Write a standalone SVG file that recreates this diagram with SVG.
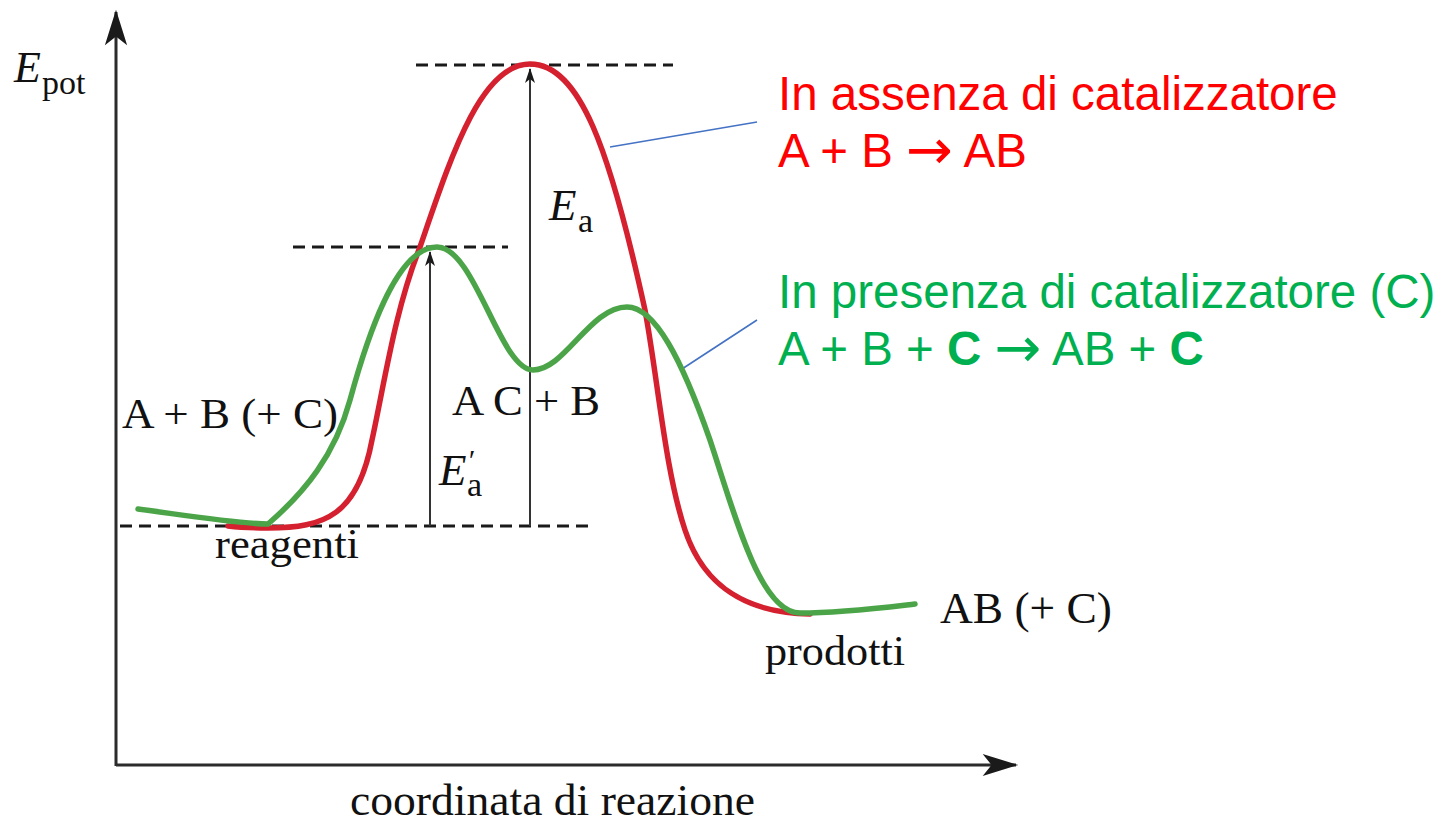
<svg xmlns="http://www.w3.org/2000/svg" width="1448" height="826" viewBox="0 0 1448 826">
<style>
.ax{stroke:#2b2b2b;stroke-width:3;fill:none}
.dash{stroke:#1a1a1a;stroke-width:3;stroke-dasharray:12 7;fill:none}
.arr{stroke:#333;stroke-width:2;fill:none}
.red{stroke:#D4202F;stroke-width:5.5;fill:none;stroke-linecap:round}
.green{stroke:#4BA548;stroke-width:5.5;fill:none;stroke-linecap:round}
.lead{stroke:#4472C4;stroke-width:1.6;fill:none}
.serif{font-family:"Liberation Serif","Times New Roman",serif;fill:#111}
.sans{font-family:"Liberation Sans",Arial,sans-serif;font-size:47.5px}
.arrow{font-family:"DejaVu Sans",sans-serif;font-size:56px}
</style>
<defs>
<marker id="axhead" markerUnits="userSpaceOnUse" markerWidth="40" markerHeight="30" refX="0" refY="0" viewBox="-32 -12 36 24" orient="auto">
<path d="M2,0 L-30,-10 L-22,0 L-30,10 Z" fill="#1a1a1a"/>
</marker>
<marker id="smhead" markerUnits="userSpaceOnUse" markerWidth="20" markerHeight="16" refX="0" refY="0" viewBox="-16 -8 18 16" orient="auto">
<path d="M1,0 L-14,-5 L-10,0 L-14,5 Z" fill="#1a1a1a"/>
</marker>
</defs>
<rect width="1448" height="826" fill="#fff"/>
<g id="axes">
<path class="ax" d="M116,766 L116,12" marker-end="url(#axhead)"/>
<path class="ax" d="M116,765 L1016,765" marker-end="url(#axhead)"/>
</g>
<g id="levels">
<path class="dash" d="M416,65 L673,65"/>
<path class="dash" d="M293,247 L508,247"/>
<path class="dash" d="M120,526 L594,526"/>
</g>
<g id="connectors">
<path class="arr" d="M430,526 L430,252" marker-end="url(#smhead)"/>
<path class="arr" d="M530,526 L530,69" marker-end="url(#smhead)"/>
<path class="lead" d="M610,147 L757,122"/>
<path class="lead" d="M682,369 L757,320"/>
</g>
<g id="curve-uncatalyzed">
<path class="red" d="M228,526 C245,528 255,528 268,528 C325,528 358,515 372,440 C385,380 395,310 420,247 C450,160 480,64 530,64 C580,64 610,150 645,310 C658,380 665,470 685,530 C705,590 750,613 810,614"/>
</g>
<g id="curve-catalyzed">
<path class="green" d="M138,509 C190,516 240,524 268,524 C305,492 335,455 350,400 C365,345 395,247 437,247 C475,247 500,370 533,370 C565,370 590,307 627,307 C655,307 682,360 710,440 C735,515 760,613 800,613 C840,613 880,608 915,604"/>
</g>
<g id="axis-labels">
<text class="serif" x="14" y="82" font-size="44" font-style="italic">E<tspan x="42" dy="12" font-size="34" font-style="normal">pot</tspan></text>
<text class="serif" x="350" y="815" font-size="44" textLength="405" lengthAdjust="spacingAndGlyphs">coordinata di reazione</text>
</g>
<g id="state-labels">
<text class="serif" x="122" y="428" font-size="42" textLength="216" lengthAdjust="spacingAndGlyphs">A + B (+ C)</text>
<text class="serif" x="452" y="415" font-size="42" textLength="148" lengthAdjust="spacingAndGlyphs">A C + B</text>
<text class="serif" x="215" y="558" font-size="43" textLength="144" lengthAdjust="spacingAndGlyphs">reagenti</text>
<text class="serif" x="765" y="665" font-size="43" textLength="140" lengthAdjust="spacingAndGlyphs">prodotti</text>
<text class="serif" x="940" y="623" font-size="44" textLength="172" lengthAdjust="spacingAndGlyphs">AB (+ C)</text>
</g>
<g id="energy-labels">
<text class="serif" x="549" y="220" font-size="45" font-style="italic">E<tspan x="578" dy="12" font-size="34" font-style="normal">a</tspan></text>
<text class="serif" x="439" y="485" font-size="45" font-style="italic">E<tspan x="467" dy="-15" font-size="30">′</tspan><tspan x="467" dy="26" font-size="34" font-style="normal">a</tspan></text>
</g>
<g id="legend-uncatalyzed" fill="#FF0000">
<text class="sans" x="778" y="110">In assenza di catalizzatore</text>
<text class="sans" x="778" y="167">A + B <tspan class="arrow" dy="2">→</tspan><tspan dy="-2"> AB</tspan></text>
</g>
<g id="legend-catalyzed" fill="#00B050">
<text class="sans" x="778" y="308">In presenza di catalizzatore (C)</text>
<text class="sans" x="778" y="365">A + B + <tspan font-weight="bold">C</tspan> <tspan class="arrow" dy="2">→</tspan><tspan dy="-2"> AB + </tspan><tspan font-weight="bold">C</tspan></text>
</g>
</svg>
